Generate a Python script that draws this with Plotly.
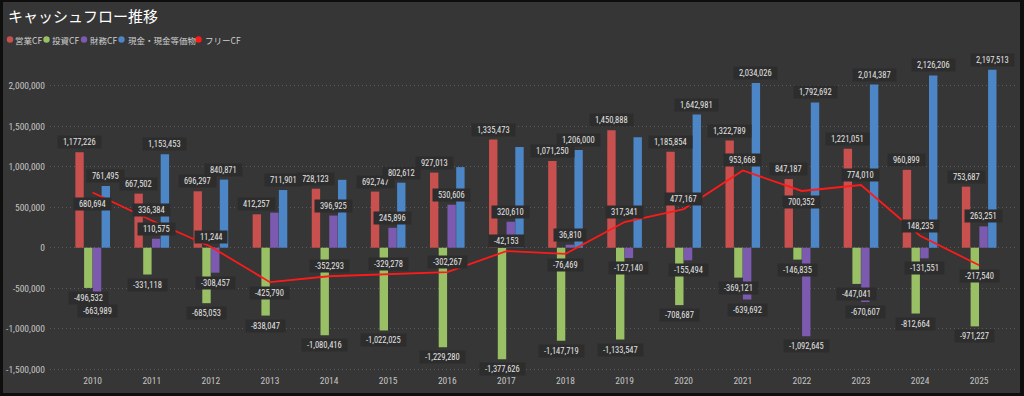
import plotly.graph_objects as go

years = [str(y) for y in range(2010, 2026)]
operating_cf = [1177226, 667502, 696297, 412257, 728123, 692747, 927013, 1335473,
                1071250, 1450888, 1185854, 1322789, 847187, 1221051, 960899, 753687]
investing_cf = [-496532, -331118, -685053, -838047, -1080416, -1022025, -1229280, -1377626,
                -1147719, -1133547, -708687, -369121, -146835, -447041, -812664, -971227]
financing_cf = [-663989, 110575, -308457, 433000, 396925, 245896, 530606, 320610,
                36810, -127140, -155494, -639692, -1092645, -670607, -131551, 263251]
cash_eq = [761495, 1153453, 840871, 711901, 838000, 802612, 995000, 1243000,
           1206000, 1364000, 1642981, 2034026, 1792692, 2014387, 2126206, 2197513]
free_cf = [680694, 336384, 11244, -425790, -352293, -329278, -302267, -42153,
           -76469, 317341, 477167, 953668, 700352, 774010, 148235, -217540]
y_ticks = [-1500000, -1000000, -500000, 0, 500000, 1000000, 1500000, 2000000]

series_names = ["営業CF", "投資CF", "財務CF", "現金・現金等価物"]
series_vals = [operating_cf, investing_cf, financing_cf, cash_eq]
colors = ["#C8504E", "#9AC066", "#7B5AB0", "#4C86C6"]
line_color = "#FF1A1A"

# labels hidden in the original (overlap)
hidden = {(2, "2013"), (3, "2014"), (3, "2016"), (3, "2017"), (3, "2019")}
fcf_below = {"2010", "2013", "2018", "2022", "2025"}

W, H = 1024, 396
L, R, T, B = 50, 8, 50, 23
pw, ph = W - L - R, H - T - B
x_range = [-0.722, 15.623]
y_range = [-1546900, 2440740]
bargap = 0.408

BG = "#363636"
LABEL_BG = "#2d2d2d"
NARROW = "Liberation Sans Narrow, Roboto Condensed, Roboto, sans-serif"
LABEL_FONT = dict(family=NARROW, size=8.5, color="#e4e4e4")
TICK_FONT = dict(family=NARROW, size=9.5, color="#c4c4c4")
PAD = "\u00a0\u00a0"

fig = go.Figure()
for name, vals, c in zip(series_names, series_vals, colors):
    fig.add_trace(go.Bar(x=years, y=vals, name=name, marker=dict(color=c, line_width=0),
                         showlegend=False, hoverinfo="x+y+name"))
fig.add_trace(go.Scatter(x=years, y=free_cf, name="フリーCF", mode="lines",
                         line=dict(color=line_color, width=1.8), showlegend=False))

cat_px = pw / (x_range[1] - x_range[0])
slot = cat_px * (1 - bargap) / 4

annotations = []
for i, vals in enumerate(series_vals):
    off = (i - 1.5) * slot
    for k, (yr, v) in enumerate(zip(years, vals)):
        if (i, yr) in hidden:
            continue
        annotations.append(dict(x=k, y=v, xref="x", yref="y", text=f"{PAD}{v:,}{PAD}",
                                showarrow=False, xshift=off, yshift=10 if v >= 0 else -10,
                                yanchor="middle", font=LABEL_FONT, bgcolor=LABEL_BG, borderpad=1))
for k, (yr, v) in enumerate(zip(years, free_cf)):
    annotations.append(dict(x=k, y=v, xref="x", yref="y", text=f"{PAD}{v:,}{PAD}",
                            showarrow=False, yshift=-11 if yr in fcf_below else 10,
                            yanchor="middle", font=LABEL_FONT, bgcolor=LABEL_BG, borderpad=1))

def px_x(px):
    return (px - L) / pw

def px_y(py):
    return (H - B - py) / ph

annotations.append(dict(x=px_x(6), y=px_y(15), xref="paper", yref="paper", xanchor="left",
                        yanchor="middle", showarrow=False, text="キャッシュフロー推移",
                        font=dict(family="Noto Sans CJK JP", size=15, color="#ffffff")))

shapes = [dict(type="rect", xref="paper", yref="paper", layer="below",
               x0=px_x(3), x1=px_x(1020), y0=px_y(393), y1=px_y(2),
               fillcolor=BG, line_width=0)]

legend_items = [("営業CF", colors[0], 10, 13), ("投資CF", colors[1], 46.5, 50),
                ("財務CF", colors[2], 84, 88), ("現金・現金等価物", colors[3], 121.5, 126),
                ("フリーCF", line_color, 198.5, 203)]
for txt, c, cx, tx in legend_items:
    shapes.append(dict(type="circle", xref="paper", yref="paper", xsizemode="pixel",
                       ysizemode="pixel", xanchor=px_x(cx), yanchor=px_y(39.5),
                       x0=-3.2, x1=3.2, y0=-3.2, y1=3.2, fillcolor=c, line_width=0,
                       layer="above"))
    annotations.append(dict(x=px_x(tx), y=px_y(39.5), xref="paper", yref="paper", xanchor="left",
                            yanchor="middle", showarrow=False, text=txt,
                            font=dict(family="Noto Sans CJK JP", size=8.5, color="#cfcfcf")))

fig.update_layout(
    width=W, height=H, margin=dict(l=L, r=R, t=T, b=B, autoexpand=False),
    paper_bgcolor="#0e0e0e", plot_bgcolor=BG,
    barmode="group", bargap=bargap, bargroupgap=0.04,
    showlegend=False, annotations=annotations, shapes=shapes,
    xaxis=dict(type="category", range=x_range, showgrid=False, zeroline=False, showline=False,
               ticks="", tickfont=TICK_FONT),
    yaxis=dict(range=y_range, tickvals=y_ticks, ticktext=[f"{v:,}" for v in y_ticks],
               showgrid=True, gridcolor="#5c5c5c", griddash="1px,3px", gridwidth=1,
               zeroline=False, showline=False, ticks="", tickfont=TICK_FONT,
               ticklabelstandoff=4),
)

fig.write_html("out.html", config={"displayModeBar": False},
               post_script="document.body.style.margin='0';")
